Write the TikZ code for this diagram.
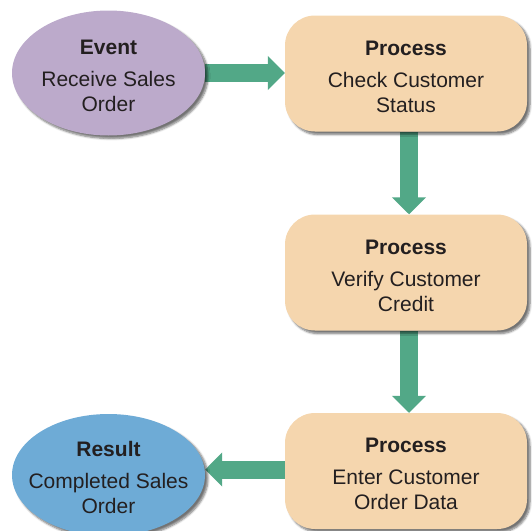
\documentclass[tikz,border=0pt]{standalone}
\usepackage{fontspec}
\setmainfont{Liberation Sans}
\usetikzlibrary{shapes.geometric,arrows.meta,shadows.blur}
\definecolor{evc}{HTML}{BCAACB}
\definecolor{prc}{HTML}{F5D6AE}
\definecolor{rsc}{HTML}{6EABD6}
\definecolor{arc}{HTML}{52A887}
\definecolor{txc}{HTML}{231F20}
\pgfdeclarelayer{bg}
\pgfsetlayers{bg,main}
\newcommand{\tstrut}{\rule{0pt}{21pt}}
\begin{document}
\begin{tikzpicture}[x=1pt,y=-1pt,
  every node/.style={font=\fontsize{21}{25}\selectfont, text=txc, align=center, inner sep=0pt},
  shd/.style={blur shadow={shadow xshift=3pt, shadow yshift=-3pt, shadow blur steps=6, shadow opacity=55}},
  ev/.style={ellipse, fill=evc, minimum width=193pt, minimum height=125pt, inner xsep=-20pt, shd},
  rs/.style={ellipse, fill=rsc, minimum width=193pt, minimum height=122pt, inner xsep=-20pt, shd},
  proc/.style={rectangle, rounded corners=30pt, fill=prc, minimum width=242pt, minimum height=116pt, shd},
  flow/.style={draw=arc, line width=18pt, -{Triangle[width=33pt,length=17pt]}}
]
\useasboundingbox (0,0) rectangle (532,530);
\node[ev] (event) at (108.5,73) {\tstrut\textbf{Event}\\[7pt]Receive Sales\\Order};
\node[proc] (p1) at (406,73.5) {\tstrut\textbf{Process}\\[7pt]Check Customer\\Status};
\node[proc] (p2) at (406,272.5) {\tstrut\textbf{Process}\\[7pt]Verify Customer\\Credit};
\node[proc] (p3) at (406,471) {\tstrut\textbf{Process}\\[7pt]Enter Customer\\Order Data};
\node[rs] (result) at (108.5,475) {\tstrut\textbf{Result}\\[7pt]Completed Sales\\Order};
\begin{pgfonlayer}{bg}
\draw[flow] (event.east) -- (event.east -| p1.west);
\draw[flow] ([xshift=3pt]p1.south) -- ([xshift=3pt]p2.north);
\draw[flow] ([xshift=3pt]p2.south) -- ([xshift=3pt]p3.north);
\draw[flow] ([yshift=1.5pt]p3.west) -- ([yshift=1.5pt]p3.west -| result.east);
\end{pgfonlayer}
\end{tikzpicture}
\end{document}
